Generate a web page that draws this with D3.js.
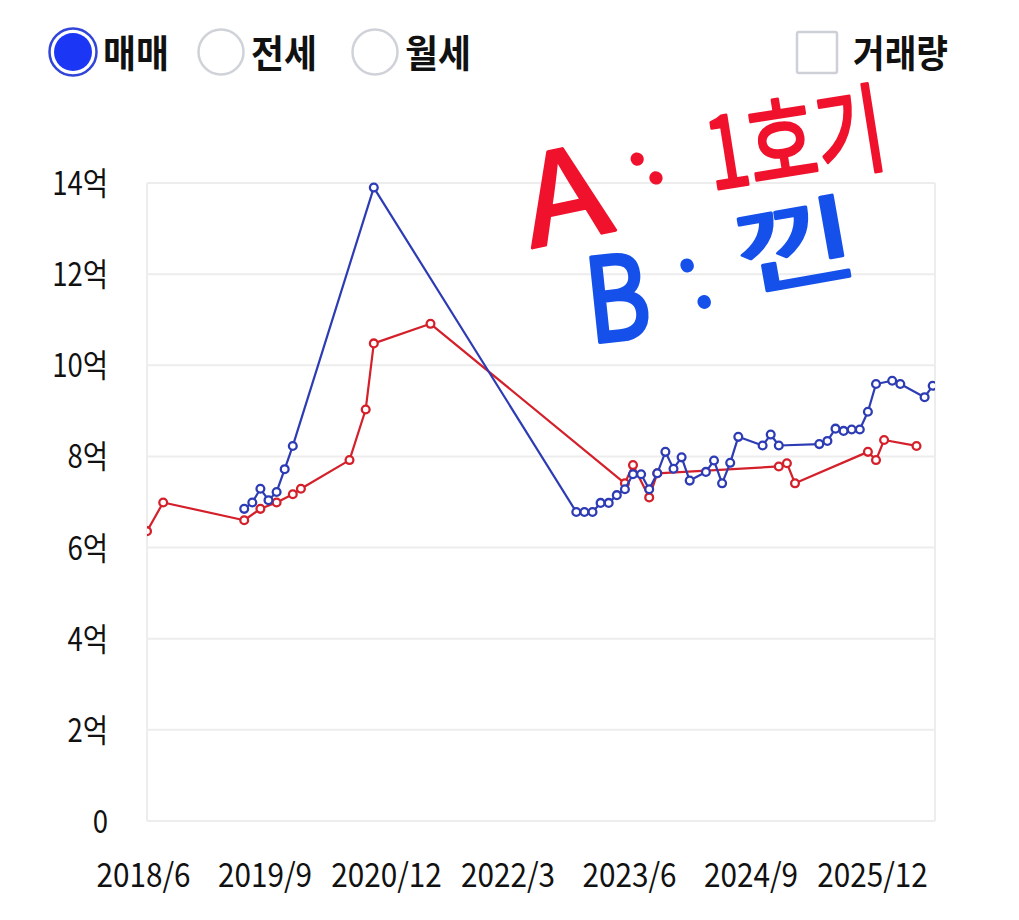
<!DOCTYPE html>
<html>
<head>
<meta charset="utf-8">
<script src="https://cdn.jsdelivr.net/npm/d3@7"></script>
<style>
  html, body { margin: 0; padding: 0; background: #fff; }
  svg { display: block; font-family: "Noto Sans CJK KR", "Noto Sans", sans-serif; }
</style>
</head>
<body>
<svg id="chart" width="1019" height="920"></svg>
<script>
;(function(d3) {
	"use strict";

	// legend
	var dealTypes = ["매매", "전세", "월세"];
	var volumeLabel = "거래량";

	// axes
	var yTicks = [0, 2, 4, 6, 8, 10, 12, 14];
	var xTickLabels = ["2018/6", "2019/9", "2020/12", "2022/3", "2023/6", "2024/9", "2025/12"];

	// A (red)
	var aMonths = ["2018-06", "2018-08", "2019-06", "2019-08", "2019-10", "2019-12", "2020-01", "2020-07",
		"2020-09", "2020-10", "2021-05", "2023-05", "2023-06", "2023-08", "2023-09", "2024-12",
		"2025-01", "2025-02", "2025-11", "2025-12", "2026-01", "2026-05"];
	var aValues = [6.36, 6.99, 6.60, 6.85, 6.99, 7.17, 7.29, 7.92,
		9.03, 10.48, 10.91, 7.41, 7.81, 7.10, 7.63, 7.78,
		7.85, 7.41, 8.10, 7.92, 8.36, 8.23];

	// B (blue)
	var bMonths = ["2019-06", "2019-07", "2019-08", "2019-09", "2019-10", "2019-11", "2019-12", "2020-10",
		"2022-11", "2022-12", "2023-01", "2023-02", "2023-03", "2023-04", "2023-05", "2023-06",
		"2023-07", "2023-08", "2023-09", "2023-10", "2023-11", "2023-12", "2024-01", "2024-03",
		"2024-04", "2024-05", "2024-06", "2024-07", "2024-10", "2024-11", "2024-12", "2025-05",
		"2025-06", "2025-07", "2025-08", "2025-09", "2025-10", "2025-11", "2025-12", "2026-02",
		"2026-03", "2026-06", "2026-07"];
	var bValues = [6.85, 6.99, 7.29, 7.04, 7.22, 7.72, 8.23, 13.9,
		6.78, 6.78, 6.78, 6.98, 6.98, 7.15, 7.28, 7.61,
		7.61, 7.28, 7.63, 8.10, 7.73, 7.98, 7.47, 7.66,
		7.91, 7.41, 7.86, 8.43, 8.24, 8.48, 8.24, 8.27,
		8.34, 8.61, 8.56, 8.59, 8.59, 8.98, 9.59, 9.66,
		9.59, 9.30, 9.55];

	var noteA = { letter: "A", word: "1호기" };
	var noteB = { letter: "B", word: "낀" };

	var bounds = { left: 147, top: 183, right: 935, bottom: 821 };
	var colorA = "#d4202a", colorB = "#2d3cb4", gridColor = "#ededed";

	// months since 2018/6
	function monthIndex(str) {
		var p = str.split(/[-\/]/).map(Number);
		return (p[0] - 2018) * 12 + (p[1] - 6);
	}

	var svg = d3.select("#chart");

	var x = d3.scaleLinear()
		.domain([0, (bounds.right - bounds.left) / 8.1])
		.range([bounds.left, bounds.right]);
	var y = d3.scaleLinear()
		.domain([0, 14])
		.range([bounds.bottom, bounds.top]);

	// ---- legend ----
	var legend = svg.append("g").attr("class", "legend");
	var radioX = [73, 221, 375];
	dealTypes.forEach(function(name, i) {
		var cx = radioX[i];
		if (i === 0) {
			legend.append("circle").attr("cx", cx).attr("cy", 52).attr("r", 23.5)
				.attr("fill", "#fff").attr("stroke", "#3146d8").attr("stroke-width", 2.5);
			legend.append("circle").attr("cx", cx).attr("cy", 52).attr("r", 19)
				.attr("fill", "#1c36f5");
		} else {
			legend.append("circle").attr("cx", cx).attr("cy", 52).attr("r", 22.5)
				.attr("fill", "#fff").attr("stroke", "#cfd2d8").attr("stroke-width", 2.5);
		}
		legend.append("text")
			.attr("x", cx + 30).attr("y", 67)
			.attr("font-size", 38).attr("font-weight", 700).attr("fill", "#111")
			.attr("textLength", 66).attr("lengthAdjust", "spacingAndGlyphs")
			.text(name);
	});
	legend.append("rect").attr("x", 797).attr("y", 32).attr("width", 40).attr("height", 41)
		.attr("rx", 2).attr("fill", "#fff").attr("stroke", "#cdd0d6").attr("stroke-width", 2.5);
	legend.append("text")
		.attr("x", 853).attr("y", 67)
		.attr("font-size", 38).attr("font-weight", 700).attr("fill", "#111")
		.attr("textLength", 95).attr("lengthAdjust", "spacingAndGlyphs")
		.text(volumeLabel);

	// ---- grid & frame ----
	var grid = svg.append("g").attr("class", "grid");
	grid.selectAll("line.h").data(yTicks).enter().append("line")
		.attr("class", "h")
		.attr("x1", bounds.left).attr("x2", bounds.right)
		.attr("y1", function(d) { return y(d); }).attr("y2", function(d) { return y(d); })
		.attr("stroke", gridColor).attr("stroke-width", 2);
	grid.selectAll("line.v").data([bounds.left, bounds.right]).enter().append("line")
		.attr("class", "v")
		.attr("x1", function(d) { return d; }).attr("x2", function(d) { return d; })
		.attr("y1", bounds.top).attr("y2", bounds.bottom)
		.attr("stroke", gridColor).attr("stroke-width", 2);

	// ---- y axis ----
	var yAxis = d3.axisLeft(y)
		.tickValues(yTicks)
		.tickSize(0)
		.tickPadding(0)
		.tickFormat(function(d) { return d === 0 ? "0" : d + "억"; });
	var yg = svg.append("g").attr("transform", "translate(108,0)").call(yAxis);
	yg.select(".domain").remove();
	yg.selectAll("text")
		.attr("font-family", "'Noto Sans CJK KR', sans-serif")
		.attr("font-size", 32).attr("fill", "#111")
		.attr("dy", "0.36em")
		.each(function() {
			var w = this.getComputedTextLength();
			d3.select(this).attr("textLength", w * 0.86).attr("lengthAdjust", "spacingAndGlyphs");
		});

	// ---- x axis ----
	var xAxis = d3.axisBottom(x)
		.tickValues(xTickLabels.map(monthIndex))
		.tickSize(0)
		.tickPadding(0)
		.tickFormat(function(d, i) { return xTickLabels[i]; });
	var xg = svg.append("g").attr("transform", "translate(-4,887)").call(xAxis);
	xg.select(".domain").remove();
	xg.selectAll("text")
		.attr("font-family", "'Noto Sans CJK KR', sans-serif")
		.attr("font-size", 33).attr("fill", "#111")
		.attr("dy", 0)
		.each(function() {
			var w = this.getComputedTextLength();
			d3.select(this).attr("textLength", w * 0.9).attr("lengthAdjust", "spacingAndGlyphs");
		});

	// ---- series ----
	svg.append("clipPath").attr("id", "plot-clip")
		.append("rect")
		.attr("x", bounds.left).attr("y", bounds.top - 10)
		.attr("width", bounds.right - bounds.left).attr("height", bounds.bottom - bounds.top + 20);

	var plot = svg.append("g").attr("clip-path", "url(#plot-clip)");

	var line = d3.line()
		.x(function(d) { return x(d.m); })
		.y(function(d) { return y(d.v); });

	function drawSeries(months, values, color) {
		var data = months.map(function(m, i) { return { m: monthIndex(m), v: values[i] }; });
		plot.append("path").datum(data)
			.attr("fill", "none").attr("stroke", color).attr("stroke-width", 2.2)
			.attr("stroke-linejoin", "round")
			.attr("d", line);
		plot.append("g").selectAll("circle").data(data).enter().append("circle")
			.attr("cx", function(d) { return x(d.m); })
			.attr("cy", function(d) { return y(d.v); })
			.attr("r", 3.9)
			.attr("fill", "#fff").attr("stroke", color).attr("stroke-width", 2.3);
	}

	drawSeries(aMonths, aValues, colorA);
	drawSeries(bMonths, bValues, colorB);

	// ---- handwritten note ----
	var note = svg.append("g").attr("class", "note")
		.attr("font-family", "'Noto Sans CJK KR', sans-serif").attr("font-weight", 400)
		.attr("stroke-linejoin", "round").attr("stroke-linecap", "round");

	note.append("text")
		.attr("transform", "translate(532,248) rotate(-12)")
		.attr("font-size", 124).attr("fill", "#f0122c").attr("stroke", "#f0122c").attr("stroke-width", 3)
		.attr("textLength", 86).attr("lengthAdjust", "spacingAndGlyphs")
		.text(noteA.letter);
	note.append("text")
		.attr("transform", "translate(652,190) rotate(-45)")
		.attr("font-size", 70).attr("font-weight", 700).attr("fill", "#f0122c")
		.text(":");
	note.append("text")
		.attr("transform", "translate(712,190) rotate(-9)")
		.attr("font-size", 98).attr("fill", "#f0122c").attr("stroke", "#f0122c").attr("stroke-width", 3)
		.attr("textLength", 180).attr("lengthAdjust", "spacingAndGlyphs")
		.text(noteA.word);

	note.append("text")
		.attr("transform", "translate(590,343) rotate(-6)")
		.attr("font-size", 116).attr("fill", "#1550ea").attr("stroke", "#1550ea").attr("stroke-width", 4)
		.attr("textLength", 64).attr("lengthAdjust", "spacingAndGlyphs")
		.text(noteB.letter);
	note.append("text")
		.attr("transform", "translate(694,313) rotate(-25)")
		.attr("font-size", 100).attr("fill", "#1550ea")
		.text(":");
	note.append("text")
		.attr("transform", "translate(740,290) rotate(-10)")
		.attr("font-size", 94).attr("fill", "#1550ea").attr("stroke", "#1550ea").attr("stroke-width", 3)
		.attr("textLength", 124).attr("lengthAdjust", "spacingAndGlyphs")
		.text(noteB.word);
})(d3);
</script>
</body>
</html>
